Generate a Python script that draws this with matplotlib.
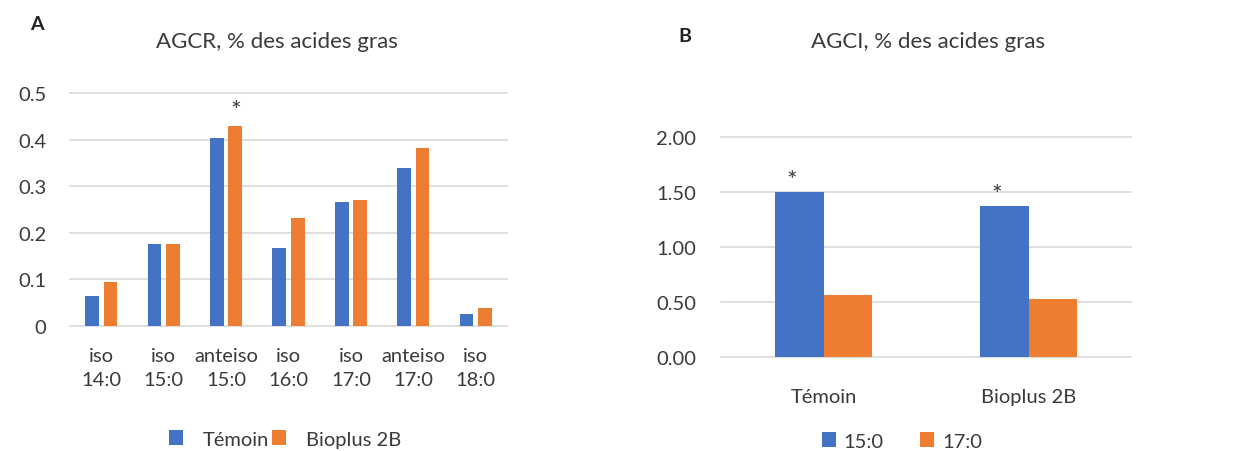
import numpy as np
import matplotlib.pyplot as plt

plt.rcParams['font.family'] = ['Lato', 'DejaVu Sans']

# Panel A data
cats_a = ["iso\n14:0", "iso\n15:0", "anteiso\n15:0", "iso\n16:0", "iso\n17:0", "anteiso\n17:0", "iso\n18:0"]
temoin_a = [0.065, 0.176, 0.404, 0.168, 0.267, 0.339, 0.026]
bioplus_a = [0.095, 0.176, 0.430, 0.232, 0.271, 0.383, 0.039]
yticks_a = [0, 0.1, 0.2, 0.3, 0.4, 0.5]
yticklabels_a = ["0", "0.1", "0.2", "0.3", "0.4", "0.5"]

# Panel B data
cats_b = ["Témoin", "Bioplus 2B"]
c15 = [1.50, 1.375]
c17 = [0.565, 0.53]
yticks_b = [0, 0.5, 1.0, 1.5, 2.0]

BLUE = "#4472C4"
ORANGE = "#ED7D31"
GRID = "#D9D9D9"
TXT = "#3a3a3a"

fig = plt.figure(figsize=(12.59, 4.52), dpi=100)

def style(ax):
    for s in ax.spines.values():
        s.set_visible(False)
    ax.yaxis.grid(True, color=GRID, linewidth=1.2)
    ax.set_axisbelow(True)
    ax.tick_params(length=0, colors=TXT, labelsize=14.5)

# ---- A ----
axA = fig.add_axes([0.0556, 0.2765, 0.3471, 0.5155])
style(axA)
x = np.arange(len(cats_a))
w = 0.22
axA.bar(x - 0.148, temoin_a, w, color=BLUE, label="Témoin")
axA.bar(x + 0.148, bioplus_a, w, color=ORANGE, label="Bioplus 2B")
axA.set_xlim(-0.5, len(cats_a) - 0.5)
axA.set_ylim(0, 0.5)
axA.set_yticks(yticks_a)
axA.set_yticklabels(yticklabels_a)
axA.set_xticks(x)
axA.set_xticklabels(cats_a, linespacing=1.5)
axA.tick_params(axis='y', pad=17)
axA.tick_params(axis='x', pad=15)
for gl in axA.get_ygridlines():
    gl.set_clip_on(False)
axA.text(2 + 0.148, bioplus_a[2] + 0.008, "*", ha='center', va='bottom', fontsize=18, color=TXT)
fig.text(277 / 1259, 1 - 42 / 452, "AGCR, % des acides gras", ha='center', va='center', fontsize=16, color=TXT)
fig.text(37 / 1259, 1 - 25 / 452, "A", ha='center', va='center', fontsize=14, fontweight='bold', color='#222222')
axA.legend(loc='center', bbox_to_anchor=(285 / 1259, 1 - 440 / 452), bbox_transform=fig.transFigure,
           ncol=2, frameon=False, fontsize=14.5, handlelength=0.7, handleheight=0.7,
           columnspacing=0.1, handletextpad=1.0, labelcolor=TXT)

# ---- B ----
axB = fig.add_axes([0.5727, 0.2073, 0.3257, 0.488])
style(axB)
xb = np.arange(len(cats_b))
wb = 0.237
axB.bar(xb - wb / 2, c15, wb, color=BLUE, label="15:0")
axB.bar(xb + wb / 2, c17, wb, color=ORANGE, label="17:0")
axB.set_xlim(-0.5, len(cats_b) - 0.5)
axB.set_ylim(0, 2.0)
axB.set_yticks(yticks_b)
axB.set_yticklabels([f"{v:.2f}" for v in yticks_b])
axB.set_xticks(xb)
axB.set_xticklabels(cats_b)
axB.tick_params(axis='y', pad=18)
axB.tick_params(axis='x', pad=22)
for gl in axB.get_ygridlines():
    gl.set_clip_on(False)
for i in range(len(cats_b)):
    axB.text(xb[i] - wb / 2 - 0.035, c15[i] + 0.0, "*", ha='center', va='bottom', fontsize=18, color=TXT)
fig.text(928 / 1259, 1 - 42 / 452, "AGCI, % des acides gras", ha='center', va='center', fontsize=16, color=TXT)
fig.text(685 / 1259, 1 - 37 / 452, "B", ha='center', va='center', fontsize=14, fontweight='bold', color='#222222')
axB.legend(loc='center', bbox_to_anchor=(902 / 1259, 1 - 442 / 452), bbox_transform=fig.transFigure,
           ncol=2, frameon=False, fontsize=14.5, handlelength=0.7, handleheight=0.7,
           columnspacing=1.8, handletextpad=0.4, labelcolor=TXT)

fig.savefig("out.png", dpi=100)
